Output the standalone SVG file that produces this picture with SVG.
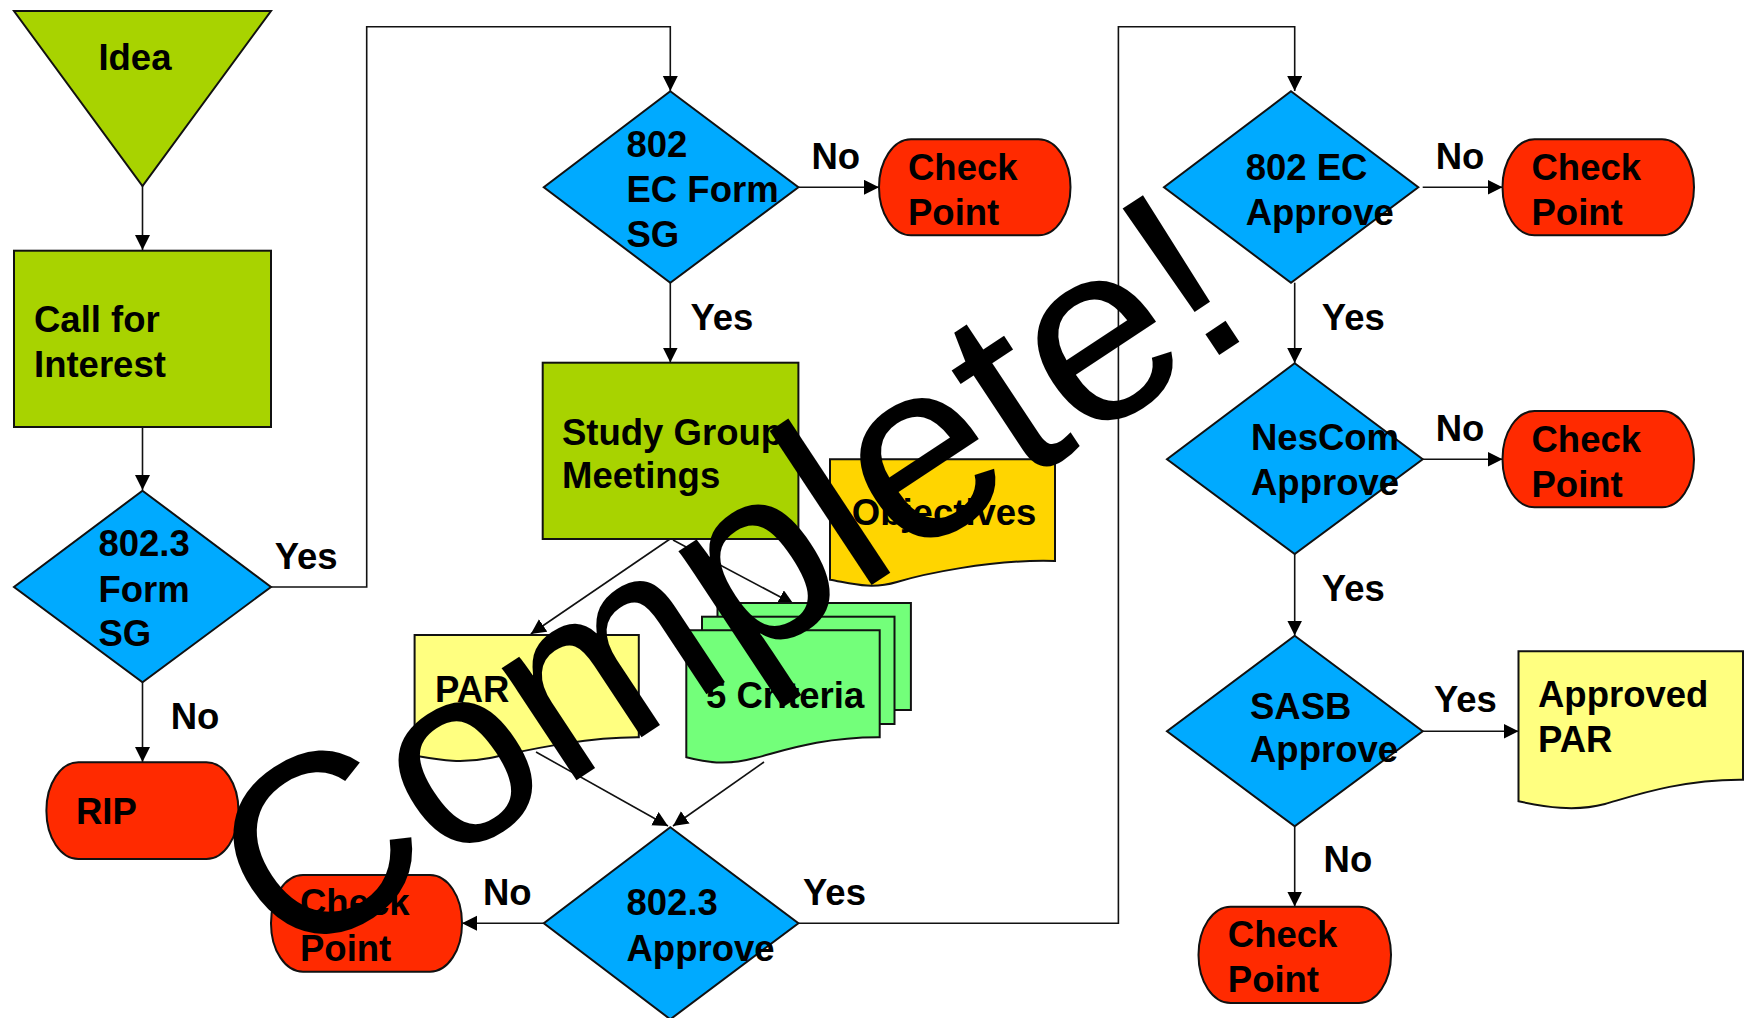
<svg xmlns="http://www.w3.org/2000/svg" width="1746" height="1018" viewBox="0 0 1746 1018">
<style>
.t{font-family:"Liberation Sans",Arial,sans-serif;font-weight:bold;font-size:36.5px;fill:#000}
.n{stroke:#111;stroke-width:2}
.g{fill:#A8D300}
.b{fill:#00AAFF}
.r{fill:#FF2A00}
.y{fill:#FFFF80}
.o{fill:#FFD500}
.c{fill:#73FF7A}
.k{fill:none;stroke:#111;stroke-width:1.6}
.wm{font-family:"Liberation Sans",Arial,sans-serif;font-size:255px;fill:#000}
</style>
<defs>
<marker id="ah" markerUnits="userSpaceOnUse" markerWidth="16" markerHeight="16" refX="15" refY="7.5" orient="auto" viewBox="0 0 16 16">
<path d="M0,0 L15,7.5 L0,15 z" fill="#000"/>
</marker>
</defs>
<rect width="1746" height="1018" fill="#fff"/>

<g id="connectors">
<path class="k" d="M142.5,186 V250" marker-end="url(#ah)"/>
<path class="k" d="M142.5,427 V490" marker-end="url(#ah)"/>
<path class="k" d="M271,587 H366.7 V26.7 H670.3 V91" marker-end="url(#ah)"/>
<path class="k" d="M142.5,682.3 V762" marker-end="url(#ah)"/>
<path class="k" d="M798.4,187.3 H879" marker-end="url(#ah)"/>
<path class="k" d="M670.3,282.7 V362.5" marker-end="url(#ah)"/>
<path class="k" d="M670,539 L530.8,634" marker-end="url(#ah)"/>
<path class="k" d="M673,540 L793.6,604" marker-end="url(#ah)"/>
<path class="k" d="M536,752 L668,826" marker-end="url(#ah)"/>
<path class="k" d="M764,762 L673,826" marker-end="url(#ah)"/>
<path class="k" d="M543.8,923.3 H462" marker-end="url(#ah)"/>
<path class="k" d="M798.4,923.3 H1118.4 V26.7 H1294.7 V91" marker-end="url(#ah)"/>
<path class="k" d="M1422.7,187.3 H1502.5" marker-end="url(#ah)"/>
<path class="k" d="M1294.7,282.7 V363" marker-end="url(#ah)"/>
<path class="k" d="M1422.7,459.3 H1502.5" marker-end="url(#ah)"/>
<path class="k" d="M1294.7,554 V635.5" marker-end="url(#ah)"/>
<path class="k" d="M1422.7,731.3 H1518.5" marker-end="url(#ah)"/>
<path class="k" d="M1294.7,826.3 V906.5" marker-end="url(#ah)"/>
<text class="t" x="274.7" y="569">Yes</text>
<text class="t" x="170.7" y="729">No</text>
<text class="t" x="811.4" y="169.3">No</text>
<text class="t" x="690.4" y="330">Yes</text>
<text class="t" x="483" y="905">No</text>
<text class="t" x="803" y="905">Yes</text>
<text class="t" x="1435.7" y="169.3">No</text>
<text class="t" x="1321.8" y="330">Yes</text>
<text class="t" x="1435.7" y="440.7">No</text>
<text class="t" x="1321.8" y="600.7">Yes</text>
<text class="t" x="1433.9" y="712.3">Yes</text>
<text class="t" x="1323.6" y="872.3">No</text>
</g>

<g id="idea">
<polygon class="n g" points="14,11 271,11 142.5,186"/>
<text class="t" x="98.4" y="70">Idea</text>
</g>
<g id="call-for-interest">
<rect class="n g" x="14" y="250.7" width="257" height="176.3"/>
<text class="t" x="34" y="332">Call for</text>
<text class="t" x="34" y="377">Interest</text>
</g>
<g id="form-sg">
<polygon class="n b" points="142.5,490.7 271,587 142.5,682.3 14,587"/>
<text class="t" x="98.4" y="555.7">802.3</text>
<text class="t" x="98.4" y="602">Form</text>
<text class="t" x="98.4" y="645.7">SG</text>
</g>
<g id="rip">
<rect class="n r" x="46.4" y="762.3" width="192" height="96.7" rx="32" ry="48"/>
<text class="t" x="76" y="824">RIP</text>
</g>
<g id="ec-form-sg">
<polygon class="n b" points="670.3,91.3 798.4,187.3 670.3,282.7 543.8,187.3"/>
<text class="t" x="626.5" y="156.7">802</text>
<text class="t" x="626.5" y="201.7">EC Form</text>
<text class="t" x="626.5" y="246.7">SG</text>
</g>
<g id="check-point-1">
<rect class="n r" x="879" y="139.3" width="191.5" height="96" rx="32" ry="48"/>
<text class="t" x="908" y="180">Check</text>
<text class="t" x="908" y="225">Point</text>
</g>
<g id="study-group">
<rect class="n g" x="542.7" y="362.7" width="255.7" height="176.3"/>
<text class="t" x="562" y="445">Study Group</text>
<text class="t" x="562" y="488.3">Meetings</text>
</g>
<g id="objectives">
<path class="n o" d="M830,459.3 H1055 V561 C990,559 920,575 897,582 C870,590 850,583 830,579.7 Z"/>
<text class="t" x="851.8" y="525">Objectives</text>
</g>
<g id="par">
<path class="n y" d="M414.6,635 H638.8 V737.3 C580,737 520,752 490,758 C460,764 440,760 414.6,755.7 Z"/>
<text class="t" x="435" y="701.7">PAR</text>
</g>
<g id="five-criteria">
<rect class="n c" x="717.5" y="603" width="193.4" height="107"/>
<rect class="n c" x="702" y="616.7" width="192.5" height="107.3"/>
<path class="n c" d="M686.3,630.3 H879.7 V737.3 C820,737 780,752 755,758 C725,766 705,762 686.3,757.3 Z"/>
<text class="t" x="706" y="708.3">5 Criteria</text>
</g>
<g id="approve-8023">
<polygon class="n b" points="670.3,827.3 798.4,923.3 670.3,1019.3 543.8,923.3"/>
<text class="t" x="626.5" y="915">802.3</text>
<text class="t" x="626.5" y="960.7">Approve</text>
</g>
<g id="check-point-5">
<rect class="n r" x="271" y="875" width="191" height="96.7" rx="32" ry="48"/>
<text class="t" x="300" y="915">Check</text>
<text class="t" x="300" y="960.7">Point</text>
</g>
<g id="ec-approve">
<polygon class="n b" points="1291,91.3 1418.3,187.3 1291,282.7 1164,187.3"/>
<text class="t" x="1245.7" y="180">802 EC</text>
<text class="t" x="1245.7" y="225">Approve</text>
</g>
<g id="check-point-2">
<rect class="n r" x="1502.5" y="139.3" width="191.5" height="96" rx="32" ry="48"/>
<text class="t" x="1531.5" y="180">Check</text>
<text class="t" x="1531.5" y="225">Point</text>
</g>
<g id="nescom">
<polygon class="n b" points="1294.7,363.3 1422.7,459.3 1294.7,554 1167,459.3"/>
<text class="t" x="1251" y="450">NesCom</text>
<text class="t" x="1251" y="495">Approve</text>
</g>
<g id="check-point-3">
<rect class="n r" x="1502.5" y="411" width="191.5" height="96.3" rx="32" ry="48"/>
<text class="t" x="1531.5" y="451.7">Check</text>
<text class="t" x="1531.5" y="496.7">Point</text>
</g>
<g id="sasb">
<polygon class="n b" points="1294.7,635.7 1422.7,731.3 1294.7,826.3 1167,731.3"/>
<text class="t" x="1250" y="719">SASB</text>
<text class="t" x="1250" y="762.3">Approve</text>
</g>
<g id="approved-par">
<path class="n y" d="M1518.5,651.3 H1743 V779.7 C1680,779 1630,797 1605,804 C1575,812 1545,807 1518.5,801.3 Z"/>
<text class="t" x="1538" y="707.3">Approved</text>
<text class="t" x="1538" y="752.3">PAR</text>
</g>
<g id="check-point-4">
<rect class="n r" x="1198.5" y="906.7" width="192.5" height="96.3" rx="32" ry="48"/>
<text class="t" x="1227.8" y="947.3">Check</text>
<text class="t" x="1227.8" y="992.3">Point</text>
</g>

<text class="wm" transform="translate(290,970) rotate(-33.5)">Complete!</text>
</svg>
